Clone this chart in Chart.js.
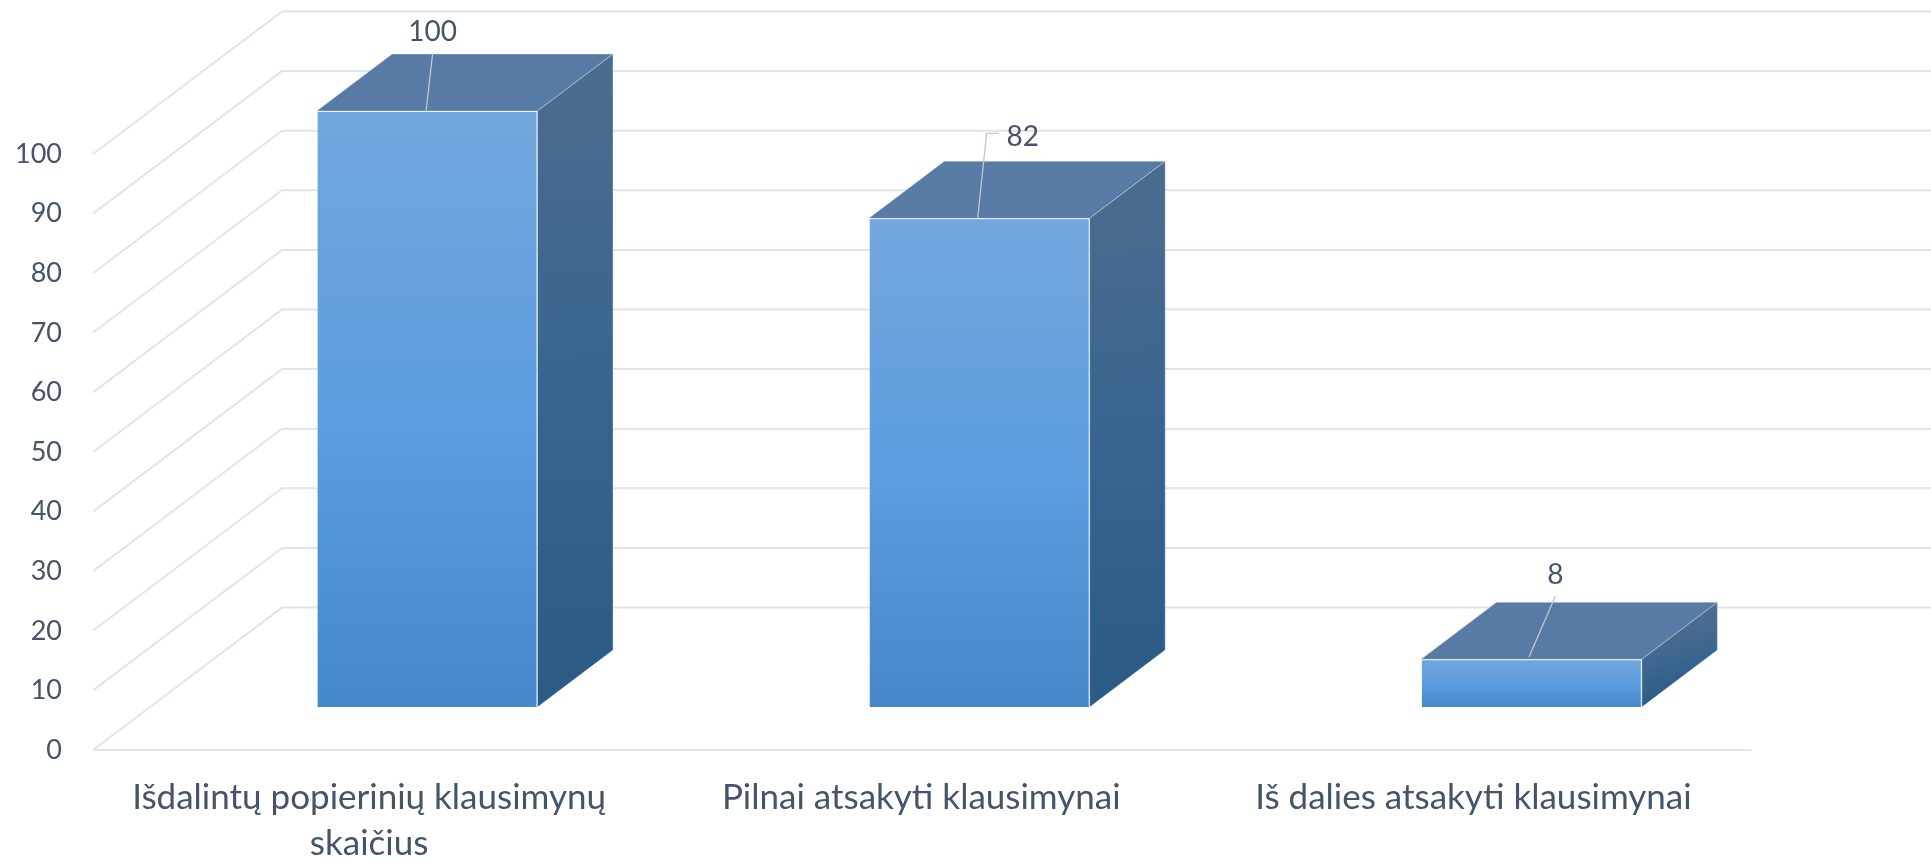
<!DOCTYPE html>
<html>
<head>
<meta charset="utf-8">
<style>html,body{margin:0;padding:0;background:#fff}canvas{display:block}</style>
<script src="https://cdn.jsdelivr.net/npm/chart.js@4/dist/chart.umd.min.js"></script>
</head>
<body>
<canvas id="c" width="1931" height="859"></canvas>
<script>
const categories = [["Išdalintų popierinių klausimynų", "skaičius"], "Pilnai atsakyti klausimynai", "Iš dalies atsakyti klausimynai"];
const values = [100, 82, 8];
const axisMin = 0, axisMax = 100, axisStep = 10;

const TEXT = "#44546a", GRID = "#e2e4ed", LEADER = "#bfc5cf", EDGE = "rgba(222,232,242,.4)";
const FONT = "Lato";
const WALL = {dx: 189, dy: 142.5};
const FLOOR_EXTRA = 2;
const BAR_OFFSET = {dx: 58, dy: 43};
const BAR_DEPTH = {dx: 75.5, dy: 57};
const NOTES = [
  {text: [5.5, -79.5], path: [[-1, 0], [5.5, -57.4]]},
  {text: [43.4, -81.5], path: [[-1.6, 0], [7.4, -85], [19.4, -85]]},
  {text: [24, -84], path: [[-2.4, -2.3], [24, -63.3]]}
];

function frontGradient(c) {
  const chart = c.chart, y = chart.scales.y;
  if (!y || c.dataIndex === undefined) return "#5b9ddf";
  const top = y.getPixelForValue(values[c.dataIndex]), base = y.getPixelForValue(0);
  if (!isFinite(top) || !isFinite(base)) return "#5b9ddf";
  const g = chart.ctx.createLinearGradient(0, top, 0, base);
  g.addColorStop(0, "#73a6dc");
  g.addColorStop(0.55, "#5a9cdf");
  g.addColorStop(1, "#4488c9");
  return g;
}

const scene3d = {
  id: "scene3d",
  beforeDatasetsDraw(chart) {
    const {ctx, chartArea: a, scales: {y}} = chart;
    ctx.save();
    ctx.strokeStyle = GRID; ctx.lineWidth = 2; ctx.lineCap = "butt"; ctx.lineJoin = "miter";
    y.ticks.forEach((t, i) => {
      const py = y.getPixelForTick(i);
      ctx.beginPath();
      ctx.moveTo(a.left, py);
      ctx.lineTo(a.left + WALL.dx, py - WALL.dy);
      ctx.lineTo(chart.width + 5, py - WALL.dy);
      ctx.stroke();
      if (t.value === axisMin) {
        ctx.beginPath(); ctx.moveTo(a.left, py); ctx.lineTo(a.right + FLOOR_EXTRA, py); ctx.stroke();
      }
    });
    chart.getDatasetMeta(0).data.forEach(el => {
      const w = el.width, l = el.x - w / 2 + BAR_OFFSET.dx, r = el.x + w / 2 + BAR_OFFSET.dx;
      const t = el.y - BAR_OFFSET.dy, b = el.base - BAR_OFFSET.dy;
      const dx = BAR_DEPTH.dx, dy = BAR_DEPTH.dy;
      ctx.lineWidth = 1; ctx.strokeStyle = EDGE;
      ctx.beginPath();
      ctx.moveTo(l, t); ctx.lineTo(l + dx, t - dy); ctx.lineTo(r + dx, t - dy); ctx.lineTo(r, t); ctx.closePath();
      ctx.fillStyle = "#577ba5"; ctx.fill(); ctx.stroke();
      const g = ctx.createLinearGradient(r + dx * 0.5, t - dy * 0.5, r + dx * 0.75, b - dy * 0.25);
      g.addColorStop(0, "#4b6b8f");
      g.addColorStop(0.5, "#37658f");
      g.addColorStop(1, "#2b5a85");
      ctx.beginPath();
      ctx.moveTo(r, t); ctx.lineTo(r + dx, t - dy); ctx.lineTo(r + dx, b - dy); ctx.lineTo(r, b); ctx.closePath();
      ctx.fillStyle = g; ctx.fill(); ctx.stroke();
    });
    ctx.restore();
  },
  beforeDatasetDraw(chart) {
    chart.ctx.save();
    chart.ctx.translate(BAR_OFFSET.dx, -BAR_OFFSET.dy);
  },
  afterDatasetDraw(chart) {
    chart.ctx.restore();
  },
  afterDatasetsDraw(chart) {
    const {ctx} = chart;
    ctx.save();
    chart.getDatasetMeta(0).data.forEach((el, i) => {
      const ox = el.x + BAR_OFFSET.dx, oy = el.y - BAR_OFFSET.dy, n = NOTES[i];
      ctx.strokeStyle = LEADER; ctx.lineWidth = 1.3;
      ctx.beginPath();
      n.path.forEach((p, k) => k ? ctx.lineTo(ox + p[0], oy + p[1]) : ctx.moveTo(ox + p[0], oy + p[1]));
      ctx.stroke();
      ctx.fillStyle = TEXT;
      ctx.font = "28px " + FONT;
      ctx.textAlign = "center"; ctx.textBaseline = "middle";
      ctx.fillText(String(values[i]), ox + n.text[0], oy + n.text[1]);
    });
    ctx.restore();
  }
};

new Chart(document.getElementById("c"), {
  type: "bar",
  data: {
    labels: categories,
    datasets: [{
      data: values,
      backgroundColor: frontGradient,
      borderColor: EDGE,
      borderWidth: 1,
      barPercentage: 0.4,
      categoryPercentage: 1,
      clip: false
    }]
  },
  plugins: [scene3d],
  options: {
    responsive: false,
    animation: false,
    layout: {padding: {top: 154, right: 181.5, left: 0, bottom: 0}},
    plugins: {legend: {display: false}, tooltip: {enabled: false}},
    scales: {
      y: {
        min: axisMin, max: axisMax,
        ticks: {stepSize: axisStep, color: TEXT, font: {family: FONT, size: 27}, padding: 31},
        grid: {display: false, drawTicks: false},
        border: {display: false},
        afterFit(s) { s.width = 93; }
      },
      x: {
        ticks: {color: TEXT, font: {family: FONT, size: 35, lineHeight: 1.31}, padding: 25, maxRotation: 0, autoSkip: false},
        grid: {display: false, drawTicks: false},
        border: {display: false},
        afterFit(s) { s.height = 109; }
      }
    }
  }
});
</script>
</body>
</html>
